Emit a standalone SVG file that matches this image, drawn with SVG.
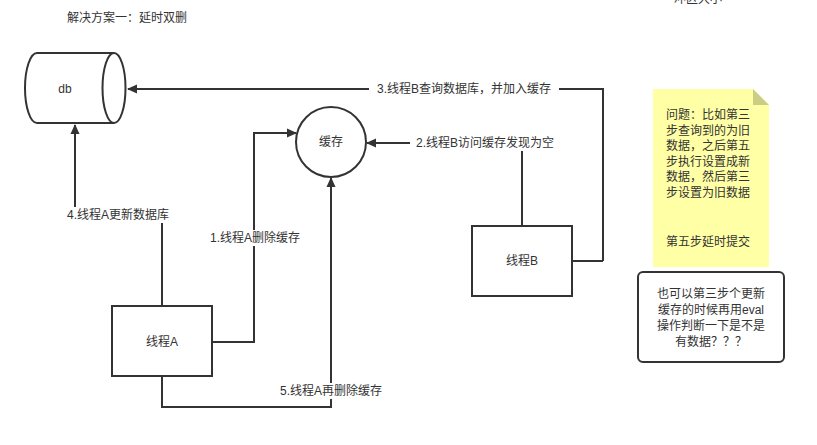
<svg xmlns="http://www.w3.org/2000/svg" width="817" height="445" viewBox="0 0 817 445">
<style>
text{font-family:"Liberation Sans","Noto Sans CJK SC",sans-serif;font-size:12px;fill:#333;}
.c{text-anchor:middle;dominant-baseline:central;}
.shape{fill:#fff;stroke:#333;stroke-width:2;}
.edge{fill:none;stroke:#333;stroke-width:2;}
.lbl{fill:#fff;stroke:none;}
</style>
<defs>
<marker id="arr" viewBox="0 0 10 10" refX="9" refY="5" markerWidth="10" markerHeight="10" markerUnits="userSpaceOnUse" orient="auto">
<path d="M0,0.5 L10,5 L0,9.5 Z" fill="#333"/>
</marker>
</defs>
<rect width="817" height="445" fill="#fff"/>
<text x="67" y="22">解决方案一：延时双删</text>
<text x="674" y="3">冲区大小</text>

<g id="connectors">
<path class="edge" d="M603,261 L603,89 L128,89" marker-end="url(#arr)"/>
<path class="edge" d="M522,226 L522,143 L367,143" marker-end="url(#arr)"/>
<path class="edge" d="M212,342 L254,342 L254,133 L296,133" marker-end="url(#arr)"/>
<path class="edge" d="M162,306 L162,215 L75,215 L75,125" marker-end="url(#arr)"/>
<path class="edge" d="M162,376 L162,407 L331,407 L331,178" marker-end="url(#arr)"/>
<path class="edge" d="M572,261 L603,261"/>
<rect class="lbl" x="369" y="81" width="190" height="16"/>
<text class="c" x="464" y="89">3.线程B查询数据库，并加入缓存</text>
<rect class="lbl" x="410" y="135" width="151" height="16"/>
<text class="c" x="485" y="143">2.线程B访问缓存发现为空</text>
<rect class="lbl" x="206" y="230" width="98" height="16"/>
<text class="c" x="255" y="238">1.线程A删除缓存</text>
<rect class="lbl" x="62" y="207" width="113" height="16"/>
<text class="c" x="118" y="215">4.线程A更新数据库</text>
<rect class="lbl" x="274" y="383" width="114" height="16"/>
<text class="c" x="331" y="391">5.线程A再删除缓存</text>
</g>

<g id="db">
<path class="shape" d="M114,53 L37,53 A12,35 0 0 0 37,123 L114,123"/>
<ellipse class="shape" cx="114" cy="88" rx="11.5" ry="35"/>
<text class="c" x="65" y="89">db</text>
</g>

<g id="cache">
<circle class="shape" cx="331" cy="142" r="35"/>
<text class="c" x="331" y="142">缓存</text>
</g>

<g id="threadA">
<rect class="shape" x="112" y="306" width="100" height="70"/>
<text class="c" x="162" y="342">线程A</text>
</g>

<g id="threadB">
<rect class="shape" x="472" y="226" width="100" height="70"/>
<text class="c" x="522" y="261">线程B</text>
</g>

<g id="note">
<path d="M653,89 L753,89 L769,105 L769,267 L653,267 Z" fill="#ffffa6" stroke="none"/>
<path d="M753,89 L753,105 L769,105 Z" fill="#cccc84" stroke="none"/>
<text x="666" y="119">问题：比如第三</text>
<text x="666" y="135">步查询到的为旧</text>
<text x="666" y="150">数据，之后第五</text>
<text x="666" y="166">步执行设置成新</text>
<text x="666" y="181">数据，然后第三</text>
<text x="666" y="197">步设置为旧数据</text>
<text x="666" y="246">第五步延时提交</text>
</g>

<g id="comment">
<rect class="shape" x="638" y="272" width="146" height="90" rx="5" ry="5"/>
<text class="c" x="711" y="294">也可以第三步个更新</text>
<text class="c" x="711" y="310">缓存的时候再用eval</text>
<text class="c" x="711" y="326">操作判断一下是不是</text>
<text class="c" x="711" y="342">有数据？？？</text>
</g>
</svg>
